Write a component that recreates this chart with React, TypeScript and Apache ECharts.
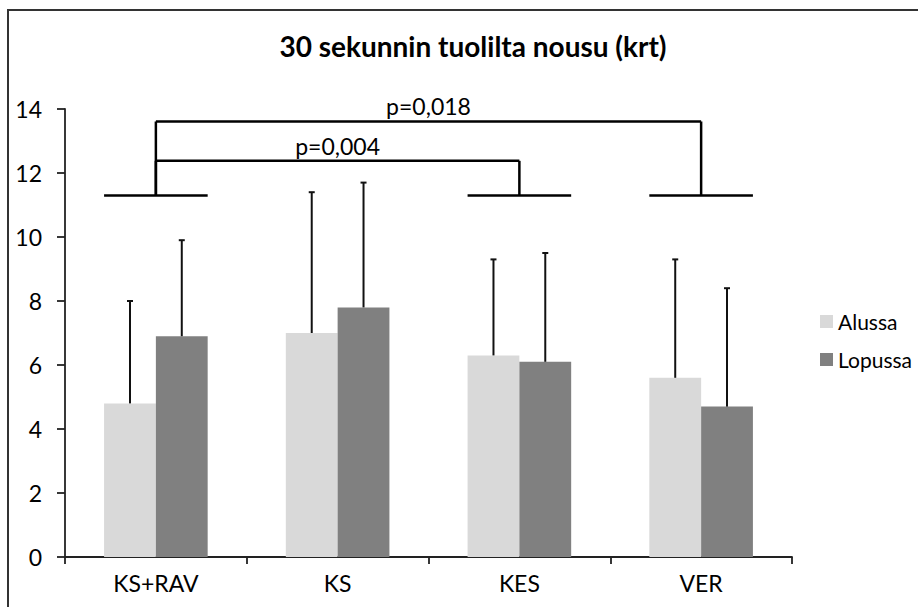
import React, { useEffect, useRef } from "react";
import * as echarts from "echarts";

const title = "30 sekunnin tuolilta nousu (krt)";
const categories = ["KS+RAV", "KS", "KES", "VER"];
const seriesNames = ["Alussa", "Lopussa"];
const alussa = [4.8, 7.0, 6.3, 5.6];
const lopussa = [6.9, 7.8, 6.1, 4.7];
const alussaErrTop = [8.0, 11.4, 9.3, 9.3];
const lopussaErrTop = [9.9, 11.7, 9.5, 8.4];
const yTicks = { min: 0, max: 14, interval: 2 };
// bracket annotations: [fromCategory, toCategory, bracketLevel, label]
const bracketFrom = [0, 0];
const bracketTo = [2, 3];
const bracketLevel = [12.38, 13.61];
const bracketLabels = ["p=0,004", "p=0,018"];
const bracketBaseCats = [0, 2, 3];
const bracketBaseLevel = 11.3;

const FONT = "Lato, 'Open Sans', sans-serif";
const GAP = 0.43;

export default function App() {
  const ref = useRef<HTMLDivElement>(null);
  useEffect(() => {
    document.body.style.margin = "0";
    const chart = echarts.init(ref.current!, null, { renderer: "svg" });

    const errRender = (sIdx: number) => (params: any, api: any) => {
      const cat = api.value(0);
      const base = api.coord([cat, api.value(1)]);
      const top = api.coord([cat, api.value(2)]);
      const band = api.size([1, 0])[0];
      const bw = (band * (1 - GAP)) / 2;
      const x = base[0] + (sIdx === 0 ? -bw / 2 : bw / 2);
      const style = { stroke: "#111", lineWidth: 2 };
      return {
        type: "group",
        children: [
          { type: "line", shape: { x1: x, y1: base[1], x2: x, y2: top[1] }, style },
          { type: "line", shape: { x1: x - 3, y1: top[1], x2: x + 3, y2: top[1] }, style },
        ],
      };
    };

    const baseRender = (params: any, api: any) => {
      const cat = api.value(0);
      const p = api.coord([cat, api.value(1)]);
      const band = api.size([1, 0])[0];
      const bw = (band * (1 - GAP)) / 2;
      return {
        type: "line",
        shape: { x1: p[0] - bw, y1: p[1], x2: p[0] + bw, y2: p[1] },
        style: { stroke: "#000", lineWidth: 2.5 },
      };
    };

    const bracketRender = (params: any, api: any) => {
      const i = params.dataIndex;
      const a = api.coord([api.value(0), api.value(2)]);
      const b = api.coord([api.value(1), api.value(2)]);
      const aBase = api.coord([api.value(0), bracketBaseLevel]);
      const bBase = api.coord([api.value(1), bracketBaseLevel]);
      const style = { stroke: "#000", lineWidth: 2.5 };
      return {
        type: "group",
        children: [
          { type: "line", shape: { x1: aBase[0], y1: aBase[1], x2: a[0], y2: a[1] }, style },
          { type: "line", shape: { x1: a[0], y1: a[1], x2: b[0], y2: b[1] }, style },
          { type: "line", shape: { x1: b[0], y1: b[1], x2: bBase[0], y2: bBase[1] }, style },
          {
            type: "text",
            x: (a[0] + b[0]) / 2,
            y: a[1] - 15,
            style: {
              text: bracketLabels[i],
              fill: "#000",
              font: `23px ${FONT}`,
              align: "center",
              verticalAlign: "middle",
            },
          },
        ],
      };
    };

    chart.setOption({
      animation: false,
      backgroundColor: "#fff",
      textStyle: { fontFamily: FONT },
      title: {
        text: title,
        left: 468,
        textAlign: "center",
        top: 27,
        textStyle: { fontSize: 28, fontWeight: "bold", color: "#000", fontFamily: FONT },
      },
      graphic: [
        {
          type: "rect",
          shape: { x: 8, y: 10, width: 1000, height: 700 },
          style: { fill: "none", stroke: "#333", lineWidth: 2 },
          silent: true,
        },
      ],
      legend: {
        orient: "vertical",
        left: 815,
        top: 306,
        itemWidth: 13,
        itemHeight: 13,
        itemGap: 17,
        icon: "rect",
        textStyle: { fontSize: 21, lineHeight: 21, color: "#000", fontFamily: FONT },
        data: seriesNames,
      },
      grid: { left: 65, top: 109, width: 727, height: 448 },
      xAxis: {
        type: "category",
        data: categories,
        axisLine: { lineStyle: { color: "#222", width: 1.8 } },
        axisTick: { show: true, length: 7, lineStyle: { color: "#222", width: 1.8 } },
        axisLabel: { fontSize: 23, color: "#000", margin: 14, fontFamily: FONT },
      },
      yAxis: {
        type: "value",
        min: yTicks.min,
        max: yTicks.max,
        interval: yTicks.interval,
        splitLine: { show: false },
        axisLine: { show: true, lineStyle: { color: "#222", width: 1.8 } },
        axisTick: { show: true, length: 8, lineStyle: { color: "#222", width: 1.8 } },
        axisLabel: { fontSize: 23, color: "#000", margin: 23, fontFamily: FONT },
      },
      series: [
        {
          name: seriesNames[0],
          type: "bar",
          data: alussa,
          barGap: "0%",
          barCategoryGap: `${GAP * 100}%`,
          itemStyle: { color: "#d9d9d9" },
        },
        {
          name: seriesNames[1],
          type: "bar",
          data: lopussa,
          itemStyle: { color: "#808080" },
        },
        {
          type: "custom",
          renderItem: errRender(0),
          data: alussa.map((v, i) => [i, v, alussaErrTop[i]]),
          z: 5,
          clip: false,
        },
        {
          type: "custom",
          renderItem: errRender(1),
          data: lopussa.map((v, i) => [i, v, lopussaErrTop[i]]),
          z: 5,
          clip: false,
        },
        {
          type: "custom",
          renderItem: baseRender,
          data: bracketBaseCats.map((c) => [c, bracketBaseLevel]),
          z: 6,
          clip: false,
        },
        {
          type: "custom",
          renderItem: bracketRender,
          data: bracketFrom.map((f, i) => [f, bracketTo[i], bracketLevel[i]]),
          z: 6,
          clip: false,
        },
      ],
    });
    return () => chart.dispose();
  }, []);
  return <div ref={ref} style={{ width: 918, height: 607 }} />;
}
